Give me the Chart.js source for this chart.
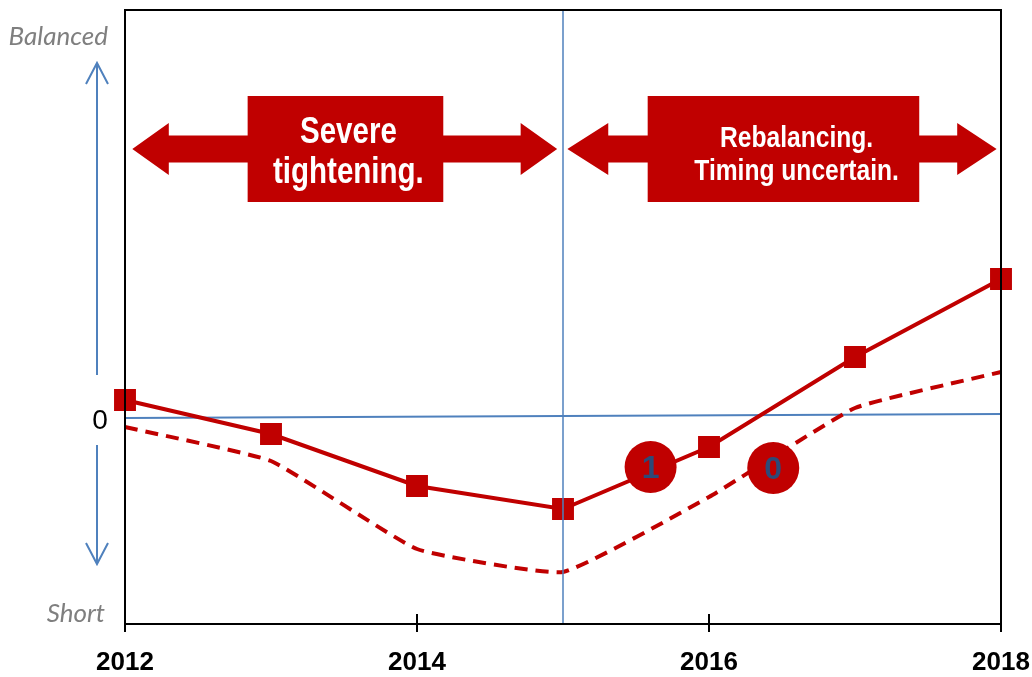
<!DOCTYPE html>
<html>
<head>
<meta charset="utf-8">
<script src="https://cdn.jsdelivr.net/npm/chart.js@4.4.1/dist/chart.umd.min.js"></script>
<style>
  html, body { margin: 0; padding: 0; background: #fff; }
</style>
</head>
<body>
<canvas id="balanceChart" width="1032" height="677"></canvas>
<script>
var years = ['2012', '2013', '2014', '2015', '2016', '2017', '2018'];
var tickLabels = ['2012', '2014', '2016', '2018'];
var mainCase = [0.18, -0.16, -0.68, -0.91, -0.29, 0.61, 1.39];
var lowCase = [-0.09, -0.43, -1.31, -1.54, -0.79, 0.10, 0.46];
var zeroLine = [{x: '2012', y: 0}, {x: '2018', y: 0.04}];
var splitYear = '2015';
var yMin = -2.06, yMax = 4.08;
var arrowTexts = [['Severe', 'tightening.'], ['Rebalancing.', 'Timing uncertain.']];
var circleLabels = ['1', '0'];

const RED = '#c00000';
const BLUE = '#4f81bd';

// arrows, boxes, circles, side labels
const annotations = {
  id: 'annotations',
  afterDatasetsDraw(chart) {
    const ctx = chart.ctx, xs = chart.scales.x, ys = chart.scales.y;
    const circles = [{i: 3.60, v: -0.49}, {i: 4.44, v: -0.50}];
    ctx.save();
    circles.forEach(function(c, k) {
      const cx = xs.getPixelForValue(c.i), cy = ys.getPixelForValue(c.v);
      ctx.fillStyle = RED;
      ctx.beginPath();
      ctx.arc(cx, cy, 26, 0, Math.PI * 2);
      ctx.fill();
      ctx.fillStyle = '#2d4a78';
      ctx.font = 'bold 32px "Liberation Sans", Arial, sans-serif';
      ctx.textAlign = 'center';
      ctx.textBaseline = 'middle';
      ctx.fillText(circleLabels[k], cx, cy + 2);
    });
    ctx.restore();
  },
  afterDraw(chart) {
    const ctx = chart.ctx, xs = chart.scales.x, ys = chart.scales.y;
    const area = chart.chartArea;
    ctx.save();

    // frame + ticks
    ctx.strokeStyle = '#000';
    ctx.lineWidth = 2;
    ctx.beginPath();
    ctx.moveTo(area.left, area.bottom + 8);
    ctx.lineTo(area.left, area.top);
    ctx.lineTo(area.right, area.top);
    ctx.lineTo(area.right, area.bottom + 8);
    ctx.moveTo(area.left, area.bottom);
    ctx.lineTo(area.right, area.bottom);
    [0, 2, 4, 6].forEach(function(i) {
      const x = xs.getPixelForValue(i);
      ctx.moveTo(x, area.bottom - 10);
      ctx.lineTo(x, area.bottom + 8);
    });
    ctx.stroke();

    // red double arrows with text boxes
    const arrows = [
      {tipL: 0.05, headL: 0.30, boxL: 0.84, boxR: 2.18, headR: 2.71, tipR: 2.96, tx: 1.53, font: 36, base: [2.75, 2.35]},
      {tipL: 3.03, headL: 3.31, boxL: 3.58, boxR: 5.44, headR: 5.70, tipR: 5.97, tx: 4.60, font: 30, base: [2.71, 2.38]}
    ];
    const cy = ys.getPixelForValue(2.69);
    arrows.forEach(function(a, k) {
      const x1 = xs.getPixelForValue(a.tipL), h1 = xs.getPixelForValue(a.headL);
      const h2 = xs.getPixelForValue(a.headR), x2 = xs.getPixelForValue(a.tipR);
      ctx.fillStyle = RED;
      ctx.beginPath();
      ctx.moveTo(x1, cy);
      ctx.lineTo(h1, cy - 26);
      ctx.lineTo(h1, cy - 13.5);
      ctx.lineTo(h2, cy - 13.5);
      ctx.lineTo(h2, cy - 26);
      ctx.lineTo(x2, cy);
      ctx.lineTo(h2, cy + 26);
      ctx.lineTo(h2, cy + 13.5);
      ctx.lineTo(h1, cy + 13.5);
      ctx.lineTo(h1, cy + 26);
      ctx.closePath();
      ctx.fill();
      const bx1 = xs.getPixelForValue(a.boxL), bx2 = xs.getPixelForValue(a.boxR);
      const by1 = ys.getPixelForValue(3.22), by2 = ys.getPixelForValue(2.16);
      ctx.fillRect(bx1, by1, bx2 - bx1, by2 - by1);
      // condensed white text (no narrow font installed, so squeeze it)
      ctx.fillStyle = '#fff';
      ctx.font = 'bold ' + a.font + 'px "Liberation Sans", Arial, sans-serif';
      ctx.textAlign = 'center';
      ctx.textBaseline = 'alphabetic';
      const tx = xs.getPixelForValue(a.tx);
      arrowTexts[k].forEach(function(t, j) {
        ctx.save();
        ctx.translate(tx, ys.getPixelForValue(a.base[j]));
        ctx.scale(0.82, 1);
        ctx.fillText(t, 0, 0);
        ctx.restore();
      });
    });

    // blue up/down arrow left of the plot
    const ax = area.left - 28;
    ctx.strokeStyle = BLUE;
    ctx.lineWidth = 2;
    const upTip = ys.getPixelForValue(3.55), upEnd = ys.getPixelForValue(0.43);
    const dnStart = ys.getPixelForValue(-0.27), dnTip = ys.getPixelForValue(-1.46);
    ctx.beginPath();
    ctx.moveTo(ax, upEnd); ctx.lineTo(ax, upTip);
    ctx.moveTo(ax - 11, upTip + 21); ctx.lineTo(ax, upTip); ctx.lineTo(ax + 11, upTip + 21);
    ctx.moveTo(ax, dnStart); ctx.lineTo(ax, dnTip);
    ctx.moveTo(ax - 11, dnTip - 21); ctx.lineTo(ax, dnTip); ctx.lineTo(ax + 11, dnTip - 21);
    ctx.stroke();

    // side labels
    ctx.fillStyle = '#7f7f7f';
    ctx.font = 'italic 26px Lato, "Open Sans", sans-serif';
    ctx.textAlign = 'right';
    ctx.textBaseline = 'alphabetic';
    ctx.fillText('Balanced', area.left - 17, ys.getPixelForValue(3.73));
    ctx.fillText('Short', area.left - 20, ys.getPixelForValue(-2.04));
    ctx.fillStyle = '#000';
    ctx.font = '28px "Liberation Sans", Arial, sans-serif';
    ctx.textAlign = 'center';
    ctx.textBaseline = 'middle';
    ctx.fillText('0', area.left - 25, ys.getPixelForValue(-0.03));
    ctx.restore();
  }
};

new Chart(document.getElementById('balanceChart').getContext('2d'), {
  type: 'line',
  plugins: [annotations],
  data: {
    labels: years,
    datasets: [{
      label: 'split',
      data: [{x: splitYear, y: yMin}, {x: splitYear, y: yMax}],
      borderColor: BLUE,
      borderWidth: 1.5,
      pointRadius: 0,
      order: 0
    }, {
      label: 'main',
      data: mainCase,
      borderColor: RED,
      backgroundColor: RED,
      borderWidth: 4,
      pointStyle: 'rect',
      pointRadius: 15.5,
      pointBorderWidth: 0,
      tension: 0,
      order: 1
    }, {
      label: 'low',
      data: lowCase,
      borderColor: RED,
      borderWidth: 4,
      borderDash: [13, 8],
      pointRadius: 0,
      tension: 0.12,
      order: 2
    }, {
      label: 'zero',
      data: zeroLine,
      borderColor: BLUE,
      borderWidth: 2,
      pointRadius: 0,
      order: 3
    }]
  },
  options: {
    responsive: false,
    animation: false,
    layout: {
      autoPadding: false,
      padding: { left: 125, right: 31, top: 10, bottom: 0 }
    },
    scales: {
      x: {
        type: 'category',
        offset: false,
        grid: { display: false, drawTicks: false },
        border: { display: false },
        afterFit: function(scale) {
          scale.height = 53;
          scale.paddingLeft = 0;
          scale.paddingRight = 0;
        },
        ticks: {
          autoSkip: false,
          maxRotation: 0,
          padding: 23,
          color: '#000',
          font: { family: '"Liberation Sans", Arial, sans-serif', size: 26, weight: 'bold' },
          callback: function(v, i) {
            return tickLabels.indexOf(years[i]) >= 0 ? years[i] : '';
          }
        }
      },
      y: {
        display: false,
        min: yMin,
        max: yMax
      }
    },
    plugins: {
      legend: { display: false },
      tooltip: { enabled: false }
    }
  }
});
</script>
</body>
</html>
